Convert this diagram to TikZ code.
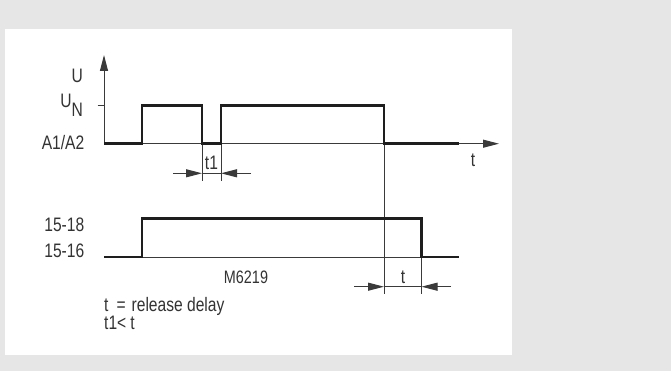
\documentclass[tikz,border=0pt]{standalone}
\usepackage{fontspec}
\setmainfont{Liberation Sans}[FakeStretch=0.8]
\usetikzlibrary{arrows.meta}
\definecolor{bggray}{HTML}{E6E6E6}
\definecolor{sigblack}{HTML}{1E1E1E}
\definecolor{linegray}{HTML}{3A3A3A}
\definecolor{txtgray}{HTML}{333333}
\begin{document}
\begin{tikzpicture}[x=1pt,y=-1pt,
  thinline/.style={line width=1pt,draw=linegray},
  sig/.style={line width=2.6pt,draw=sigblack,line join=miter,line cap=butt},
  lbl/.style={inner sep=0pt,text=txtgray,font=\fontsize{19.5}{21}\selectfont},
  tip/.style={-{Triangle[length=16pt,width=8pt]}},
  dimarrow/.style={thinline,tip}]
% background and panel
\fill[bggray] (0,0) rectangle (671,371);
\fill[white] (5,29) rectangle (512,355);
\useasboundingbox (0,0) rectangle (671,371);

% coordinates, upper diagram
\coordinate (o1) at (104,143.7);
\coordinate (ytop) at (104,55);
\coordinate (xend) at (499,143.7);
\coordinate (tick) at (97.5,105.7);
\coordinate (tickr) at (104,105.7);
\coordinate (a1) at (142,143.7);
\coordinate (a2) at (142,105.7);
\coordinate (a3) at (202,105.7);
\coordinate (a4) at (202,143.7);
\coordinate (a5) at (221,143.7);
\coordinate (a6) at (221,105.7);
\coordinate (a7) at (384,105.7);
\coordinate (a8) at (384,143.7);
\coordinate (a9) at (459,143.7);
% coordinates, lower diagram
\coordinate (o2) at (104,257);
\coordinate (b1) at (142,257);
\coordinate (b2) at (142,218.7);
\coordinate (b3) at (421.5,218.7);
\coordinate (b4) at (421.5,257);
\coordinate (b5) at (459,257);
% dimension coordinates
\coordinate (v1b) at (202,181);
\coordinate (v2b) at (221,181);
\coordinate (d1l) at (173,173.3);
\coordinate (d1a) at (202,173.3);
\coordinate (d1b) at (221,173.3);
\coordinate (d1r) at (251,173.3);
\coordinate (v3b) at (384,294);
\coordinate (v4b) at (421.5,294);
\coordinate (d2l) at (354,286.7);
\coordinate (d2a) at (384,286.7);
\coordinate (d2b) at (421.5,286.7);
\coordinate (d2r) at (451,286.7);

% axes and thin baselines
\draw[thinline,tip] (o1) -- (ytop);
\draw[thinline,tip] (o1) -- (xend);
\draw[thinline] (tick) -- (tickr);
\draw[thinline] (o2) -- (b5);

% vertical reference lines
\draw[thinline] (a4) -- (v1b);
\draw[thinline] (a5) -- (v2b);
\draw[thinline] (a8) -- (v3b);
\draw[thinline] (b4) -- (v4b);

% dimension arrows
\draw[thinline] (d1a) -- (d1b);
\draw[dimarrow] (d1l) -- (d1a);
\draw[dimarrow] (d1r) -- (d1b);
\draw[thinline] (d2a) -- (d2b);
\draw[dimarrow] (d2l) -- (d2a);
\draw[dimarrow] (d2r) -- (d2b);

% signals
\draw[sig] (o1) -- (a1) -- (a2) -- (a3) -- (a4) -- (a5) -- (a6) -- (a7) -- (a8) -- (a9);
\draw[sig] (o2) -- (b1) -- (b2) -- (b3) -- (b4) -- (b5);

% labels
\node[lbl,anchor=base east] (lU) at (83,83) {U};
\node[lbl,anchor=base east] (lUN) at (83,108) {U\raisebox{-9pt}{N}};
\node[lbl,anchor=base east] (lA) at (84.5,150) {A1/A2};
\node[lbl,anchor=base] (lt) at (473,167) {t};
\node[lbl,anchor=base] (lt1) at (211.5,170) {t1};
\node[lbl,anchor=base east] (l18) at (84.5,232) {15-18};
\node[lbl,anchor=base east] (l16) at (84.5,257) {15-16};
\node[lbl,anchor=base,font=\fontsize{18}{19}\selectfont] (lM) at (246,283) {M6219};
\node[lbl,anchor=base] (lt2) at (403,283) {t};
\node[lbl,anchor=base west] (lrel) at (104,311) {t\hspace{8pt}=\hspace{6pt}release delay};
\node[lbl,anchor=base west] (lt1t) at (104,329.5) {t1<\hspace{4pt}t};
\end{tikzpicture}
\end{document}
